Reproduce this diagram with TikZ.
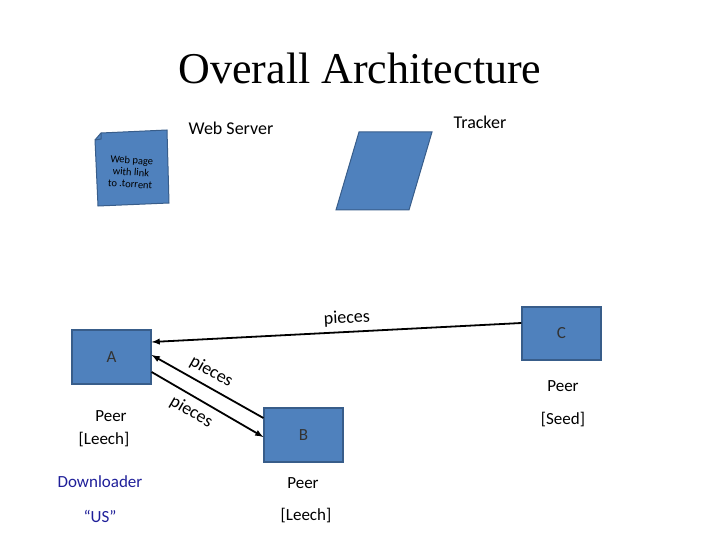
\documentclass[tikz,border=0pt]{standalone}
\usepackage{fontspec}
\setmainfont{Liberation Serif}
\newfontfamily\calibri{Carlito}
\usepackage{tikz}
\usetikzlibrary{positioning,shapes,arrows,calc}
\definecolor{boxblue}{HTML}{4F81BD}
\definecolor{boxedge}{HTML}{385D8A}
\definecolor{navytext}{HTML}{1F1F99}

\begin{document}
\begin{tikzpicture}[x=1pt, y=-1pt, >=latex,
    peerbox/.style={draw=boxedge, fill=boxblue, line width=1.2pt, minimum width=79pt, minimum height=54pt,
      font=\calibri\fontsize{17}{20}\selectfont, text=black!80},
    caption/.style={font=\calibri\fontsize{17}{20}\selectfont},
    flow/.style={black, line width=1.8pt},
    flowlabel/.style={font=\calibri\fontsize{18}{21}\selectfont, sloped, inner sep=1pt}]
      \useasboundingbox (0,0) rectangle (720,540);

      \node[font=\fontsize{44}{50}\selectfont] (title) at (360,68) {Overall Architecture};

      % web page and tracker
      \node[caption, font=\calibri\fontsize{18}{21}\selectfont] (websrv) at (231,128) {Web Server};
      \node[caption, font=\calibri\fontsize{18}{21}\selectfont] (tracker) at (480,122) {Tracker};
      \filldraw[fill=boxblue, draw=boxedge, line width=1pt]
        (101,133) -- (167,130) -- (169,203) -- (98,206) -- (95,140) -- cycle;
      \draw[boxedge, line width=1pt] (95,140) -- (101,139) -- (101,133);
      \node[font=\calibri\fontsize{10.5}{12}\selectfont, align=center, rotate=-4] (page) at (131,172)
        {Web page\\with link\\to .torrent};
      \filldraw[fill=boxblue, draw=boxedge, line width=1pt]
        (359,132) -- (432,132) -- (409,210) -- (336,210) -- cycle;

      % peers
      \node[peerbox] (A) at (111.5,357) {A};
      \node[peerbox] (B) at (303.5,435) {B};
      \node[peerbox, minimum height=53pt] (C) at (561.5,333.5) {C};

      \node[caption] (peerA) at (111,416) {Peer};
      \node[caption] (leechA) at (104,440) {[Leech]};
      \node[caption, text=navytext] (down) at (100,482) {Downloader};
      \node[caption, text=navytext] (us) at (100,516) {“US”};
      \node[caption] (peerB) at (303,483) {Peer};
      \node[caption] (leechB) at (306,516) {[Leech]};
      \node[caption] (peerC) at (563,386) {Peer};
      \node[caption] (seedC) at (563,420) {[Seed]};

      % pieces
      \draw[flow, <-] ([yshift=15pt]A.east) -- ([yshift=10.5pt]C.west)
        node[flowlabel, pos=0.53, above=4pt] {pieces};
      \draw[flow, <-] ([yshift=2pt]A.east) -- ([yshift=17pt]B.west)
        node[flowlabel, pos=0.47, above=5pt] {pieces};
      \draw[flow, ->] ([yshift=-15pt]A.east) -- ([yshift=-2pt]B.west)
        node[flowlabel, pos=0.42, below=5pt] {pieces};
    \end{tikzpicture}
\end{document}
